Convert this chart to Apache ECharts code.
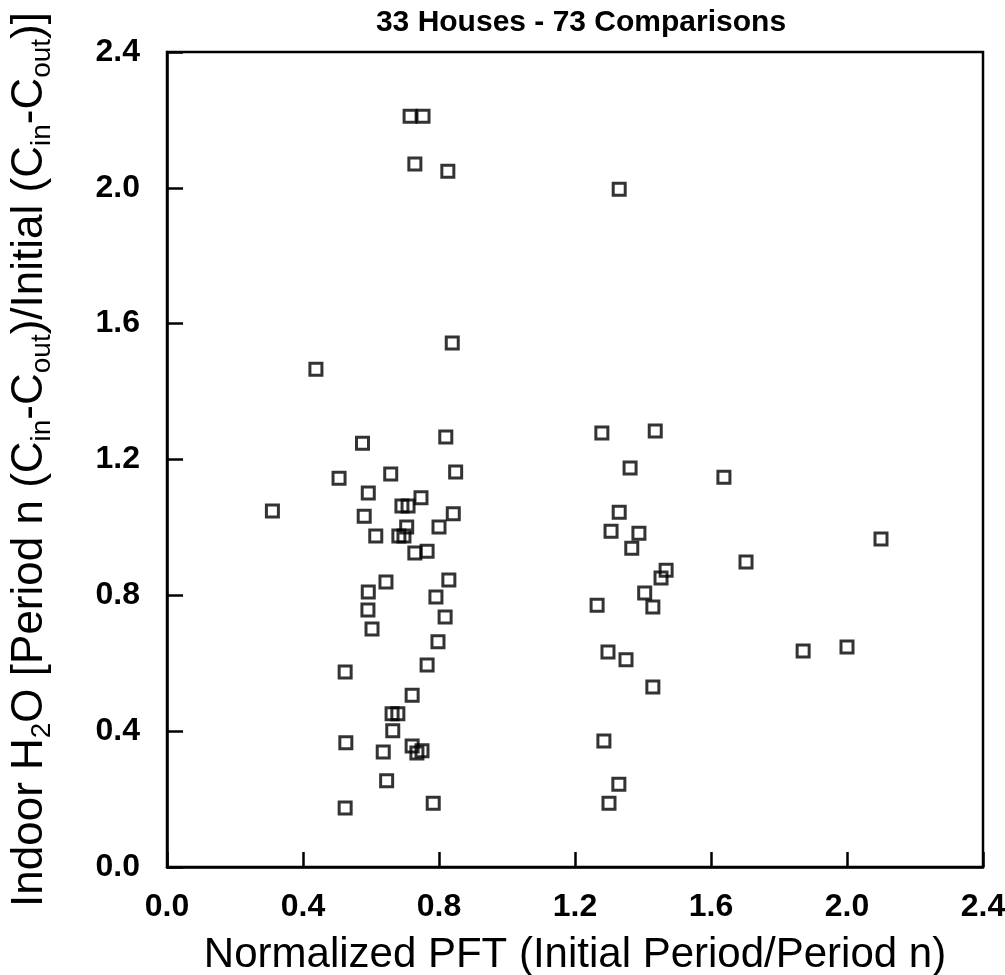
<!DOCTYPE html>
<html>
<head>
<meta charset="utf-8">
<script src="https://cdn.jsdelivr.net/npm/echarts@6/dist/echarts.min.js"></script>
<style>
  html, body { margin: 0; padding: 0; background: #fff; }
  #chart { width: 1005px; height: 975px; }
</style>
</head>
<body>
<div id="chart"></div>
<script>
// Normalized PFT (x) and indoor H2O ratio (y)
const pftValues = [
  0.715, 0.753, 0.729, 0.826, 1.330,
  0.839, 0.438, 0.575, 0.820, 0.506, 0.658, 0.849, 0.310, 0.592, 0.747,
  0.691, 0.709, 0.580, 0.842, 0.800, 0.705, 0.614, 0.682, 0.697, 0.729,
  0.765, 0.644, 0.829, 0.592, 0.791, 0.591, 0.818, 0.603, 0.797,
  0.765, 0.524, 0.721, 0.662, 0.679, 0.664, 0.526, 0.636, 0.721, 0.735,
  0.750, 0.646, 0.783, 0.524,
  1.279, 1.436, 1.362, 1.638, 1.330, 1.306, 1.388, 1.367, 2.100, 1.703,
  1.468, 1.453, 1.405, 1.265, 1.429, 1.297, 1.350, 1.871, 2.000,
  1.429, 1.285, 1.329, 1.300
];
const h2oRatios = [
  2.211, 2.211, 2.070, 2.049, 1.996,
  1.543, 1.466, 1.248, 1.266, 1.145, 1.157, 1.163, 1.048, 1.101, 1.087,
  1.063, 1.063, 1.033, 1.040, 1.001, 1.001, 0.975, 0.975, 0.975, 0.925,
  0.930, 0.839, 0.845, 0.810, 0.795, 0.757, 0.736, 0.701, 0.663,
  0.595, 0.574, 0.506, 0.451, 0.451, 0.401, 0.366, 0.339, 0.356, 0.336,
  0.342, 0.254, 0.188, 0.174,
  1.278, 1.284, 1.175, 1.148, 1.045, 0.989, 0.983, 0.939, 0.966, 0.898,
  0.874, 0.851, 0.807, 0.771, 0.766, 0.633, 0.610, 0.636, 0.648,
  0.530, 0.371, 0.244, 0.188
];
const xTicks = ['0.0', '0.4', '0.8', '1.2', '1.6', '2.0', '2.4'];
const yTicks = ['0.0', '0.4', '0.8', '1.2', '1.6', '2.0', '2.4'];

const FONT = '"Liberation Sans", Arial, Helvetica, sans-serif';

const chart = echarts.init(document.getElementById('chart'));

const option = {
  backgroundColor: '#fff',
  animation: false,
  title: {
    text: '33 Houses - 73 Comparisons',
    left: 576,
    textAlign: 'center',
    top: 3,
    textStyle: {
      fontFamily: FONT,
      fontSize: 30,
      fontWeight: 'bold',
      color: '#000',
      lineHeight: 30
    }
  },
  grid: {
    left: 167,
    right: 22,
    top: 52,
    bottom: 108,
    outerBoundsMode: 'none',
    show: true,
    borderColor: '#000',
    borderWidth: 2.5,
    backgroundColor: 'transparent'
  },
  xAxis: {
    type: 'value',
    min: 0,
    max: 2.4,
    interval: 0.4,
    name: 'Normalized PFT (Initial Period/Period n)',
    nameLocation: 'middle',
    nameGap: 67,
    nameTextStyle: {
      fontFamily: FONT,
      fontSize: 42,
      lineHeight: 42,
      color: '#000'
    },
    splitLine: { show: false },
    axisLine: { show: true, lineStyle: { color: '#000', width: 2.5 } },
    axisTick: { show: true, inside: true, length: 15, lineStyle: { color: '#000', width: 2.5 } },
    axisLabel: {
      margin: 24,
      fontFamily: FONT,
      fontSize: 32,
      fontWeight: 'bold',
      color: '#000',
      formatter: (v) => xTicks[Math.round(v / 0.4)]
    }
  },
  yAxis: {
    type: 'value',
    min: 0,
    max: 2.4,
    interval: 0.4,
    name: '{n|Indoor H}{s|2}{n|O [Period n (C}{s|in}{n|-C}{s|out}{n|)/Initial (C}{s|in}{n|-C}{s|out}{n|)]}',
    nameLocation: 'middle',
    nameRotate: 90,
    nameGap: 111,
    nameTextStyle: {
      color: '#000',
      rich: {
        n: { fontFamily: FONT, fontSize: 44, lineHeight: 52, color: '#000' },
        s: { fontFamily: FONT, fontSize: 28, lineHeight: 8, verticalAlign: 'bottom', color: '#000' }
      }
    },
    splitLine: { show: false },
    axisLine: { show: true, lineStyle: { color: '#000', width: 2.5 } },
    axisTick: { show: true, inside: true, length: 16, lineStyle: { color: '#000', width: 2.5 } },
    axisLabel: {
      margin: 27,
      fontFamily: FONT,
      fontSize: 32,
      fontWeight: 'bold',
      color: '#000',
      formatter: (v) => yTicks[Math.round(v / 0.4)]
    }
  },
  series: [
    {
      type: 'scatter',
      symbol: 'rect',
      symbolSize: 12,
      data: pftValues.map((x, i) => [x, h2oRatios[i]]),
      itemStyle: {
        color: 'rgba(0,0,0,0)',
        borderColor: '#000',
        borderWidth: 3
      },
      emphasis: { disabled: true }
    }
  ]
};

chart.setOption(option);
</script>
</body>
</html>
